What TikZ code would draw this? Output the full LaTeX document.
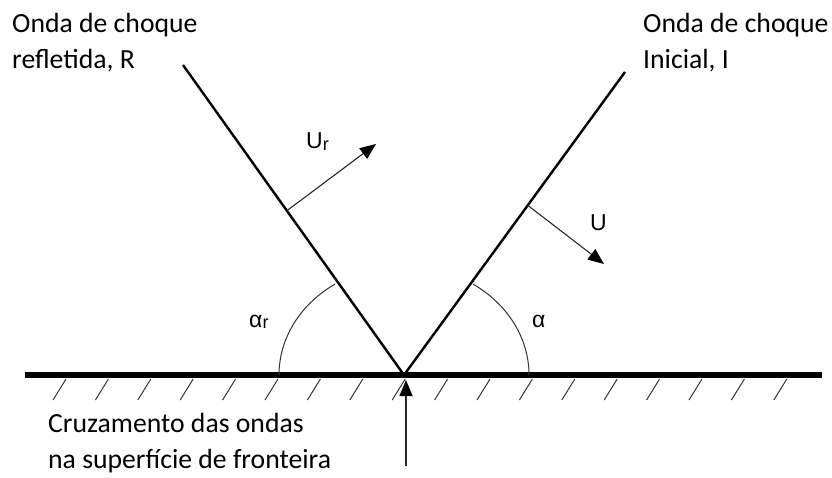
\documentclass[tikz,border=0pt]{standalone}
\usepackage{fontspec}
\setmainfont{Carlito}
\newfontfamily\greekfont{Liberation Sans}
\usetikzlibrary{arrows.meta,calc}
\newcommand{\subr}{\raisebox{-2pt}{\fontsize{18}{18}\selectfont r}}
\begin{document}
\begin{tikzpicture}[x=1pt,y=-1pt,
    shock/.style={line width=2.4pt, black},
    ground/.style={line width=6pt, black},
    wave/.style={line width=1.1pt, black!85, -{Triangle[length=16pt,width=13pt,color=black]}},
    hatchline/.style={line width=1pt, black!80},
    anglearc/.style={line width=1pt, black!80},
    lbl/.style={anchor=base west, inner sep=0pt, font=\fontsize{27.7}{36}\selectfont},
    sym/.style={anchor=base west, inner sep=0pt, font=\greekfont\fontsize{23}{27}\selectfont}]
    \useasboundingbox (0,0) rectangle (832,477);
    % crossing point and shock front ends
    \coordinate (V) at (404,375);
    \coordinate (Rtop) at (183,65);
    \coordinate (Itop) at (625,72);
    % boundary surface with hatching
    \draw[ground] (25,375) -- (822,375);
    \foreach \i in {0,...,17}
        \draw[hatchline] ({53+42.4*\i},400) -- ++(13,-21);
    % shock fronts
    \draw[shock] (V) -- (Rtop);
    \draw[shock] (V) -- (Itop);
    % propagation directions
    \coordinate (UrFoot) at ($(V)!0.53!(Rtop)$);
    \coordinate (UFoot) at ($(V)!0.56!(Itop)$);
    \coordinate (UrTip) at (376,144);
    \coordinate (UTip) at (604,264);
    \draw[wave] (UrFoot) -- (UrTip);
    \draw[wave] (UFoot) -- (UTip);
    % arrow to the crossing point
    \coordinate (below) at (406,466);
    \coordinate (hit) at (406,380);
    \draw[wave] (below) -- (hit);
    % angles
    \draw[anglearc] (279,375) arc[start angle=180, end angle=236.5, x radius=125, y radius=109];
    \draw[anglearc] (529,375) arc[start angle=0, end angle=-56.5, x radius=125, y radius=109];
    % labels
    \node[lbl] (refA) at (12,32) {Onda de choque};
    \node[lbl] (refB) at (12,68) {refletida, R};
    \node[lbl] (incA) at (643,32) {Onda de choque};
    \node[lbl] (incB) at (643,68) {Inicial, I};
    \node[lbl] (crossA) at (48,432) {Cruzamento das ondas};
    \node[lbl] (crossB) at (48,468) {na superfície de fronteira};
    \node[sym] (labUr) at (306,148) {U\subr};
    \node[sym] (labU) at (590,230) {U};
    \node[sym] (labAr) at (249,327) {α\raisebox{-1.5pt}{\fontsize{18}{18}\selectfont r}};
    \node[sym] (labA) at (532,327) {α};
\end{tikzpicture}
\end{document}
